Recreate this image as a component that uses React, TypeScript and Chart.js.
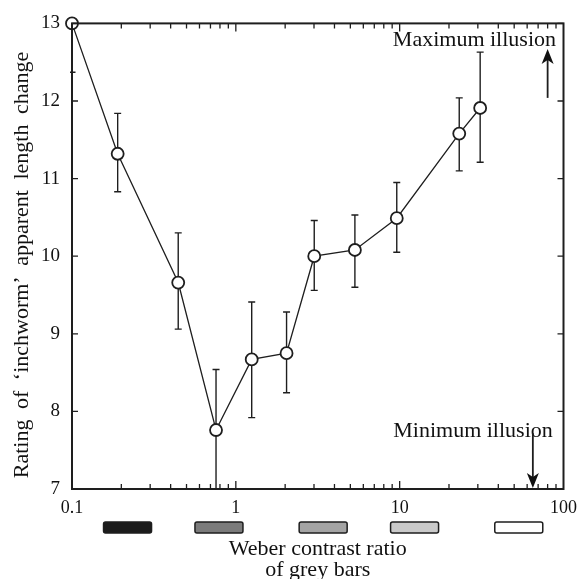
import React, { useEffect, useRef } from 'react';
import { Chart, registerables } from 'chart.js';

Chart.register(...registerables);

// ---- data ----
const contrast = [0.1, 0.19, 0.445, 0.757, 1.25, 2.04, 3.01, 5.33, 9.6, 23.1, 31];
const rating = [13.0, 11.32, 9.66, 7.76, 8.67, 8.75, 10.0, 10.08, 10.49, 11.58, 11.91];
const errUpper = [13.63, 11.84, 10.3, 8.54, 9.41, 9.28, 10.46, 10.53, 10.95, 12.04, 12.63];
const errLower = [12.37, 10.83, 9.06, 6.98, 7.92, 8.24, 9.56, 9.6, 10.05, 11.1, 11.21];
const xTickValues = [0.1, 1, 10, 100];
const xTickLabels = ['0.1', '1', '10', '100'];
const yTickValues = [7, 8, 9, 10, 11, 12, 13];
const barGreys = ['#1c1c1c', '#7b7b7b', '#a4a4a4', '#cacaca', '#ffffff'];
const yTitle = 'Rating of \u2018inchworm\u2019 apparent length change';
const xTitle = ['Weber contrast ratio', 'of grey bars'];

const FONT = '"Liberation Serif", "Times New Roman", serif';
const INK = '#1e1e1e';

const decorPlugin = {
  id: 'decor',
  beforeDatasetsDraw(chart: any) {
    const { ctx, chartArea, scales } = chart;
    const xs = scales.x, ys = scales.y;
    ctx.save();
    ctx.beginPath();
    ctx.rect(chartArea.left - 2, chartArea.top, chartArea.right - chartArea.left + 4, chartArea.bottom - chartArea.top);
    ctx.clip();
    ctx.strokeStyle = INK;
    ctx.lineWidth = 1.4;
    for (let i = 0; i < contrast.length; i++) {
      const px = xs.getPixelForValue(contrast[i]);
      const pu = ys.getPixelForValue(errUpper[i]);
      const pl = ys.getPixelForValue(errLower[i]);
      ctx.beginPath();
      ctx.moveTo(px, pu); ctx.lineTo(px, pl);
      ctx.moveTo(px - 3.5, pu); ctx.lineTo(px + 3.5, pu);
      ctx.moveTo(px - 3.5, pl); ctx.lineTo(px + 3.5, pl);
      ctx.stroke();
    }
    ctx.restore();
  },
  afterDraw(chart: any) {
    const { ctx, chartArea, scales } = chart;
    const xs = scales.x, ys = scales.y;
    const { left, right, top, bottom } = chartArea;
    ctx.save();
    ctx.strokeStyle = INK;
    // frame
    ctx.lineWidth = 2;
    ctx.strokeRect(left, top, right - left, bottom - top);
    // x ticks (log, inward, top & bottom)
    ctx.lineWidth = 1.3;
    ctx.beginPath();
    for (let d = 0; d < xTickValues.length - 1; d++) {
      for (let m = 1; m <= 9; m++) {
        const v = xTickValues[d] * m;
        const px = xs.getPixelForValue(v);
        const len = m === 1 ? 8 : 5;
        ctx.moveTo(px, bottom); ctx.lineTo(px, bottom - len);
        ctx.moveTo(px, top); ctx.lineTo(px, top + len);
      }
    }
    // y ticks
    for (const v of yTickValues) {
      const py = ys.getPixelForValue(v);
      ctx.moveTo(left, py); ctx.lineTo(left + 6, py);
      ctx.moveTo(right, py); ctx.lineTo(right - 6, py);
    }
    ctx.stroke();

    // annotations
    ctx.fillStyle = '#111';
    ctx.font = `22px ${FONT}`;
    ctx.textAlign = 'right';
    ctx.textBaseline = 'alphabetic';
    ctx.fillText('Maximum illusion', xs.getPixelForValue(90), ys.getPixelForValue(12.71));
    ctx.fillText('Minimum illusion', xs.getPixelForValue(86), ys.getPixelForValue(7.67));

    // up arrow
    const ax = xs.getPixelForValue(80);
    const aTop = ys.getPixelForValue(12.67);
    const aBot = ys.getPixelForValue(12.04);
    ctx.lineWidth = 1.8;
    ctx.beginPath();
    ctx.moveTo(ax, aBot); ctx.lineTo(ax, aTop + 8); ctx.stroke();
    ctx.beginPath();
    ctx.moveTo(ax, aTop); ctx.lineTo(ax - 6, aTop + 15); ctx.lineTo(ax, aTop + 11); ctx.lineTo(ax + 6, aTop + 15); ctx.closePath();
    ctx.fill();
    // down arrow
    const bx = xs.getPixelForValue(65);
    const bTop = ys.getPixelForValue(7.72);
    const bTip = ys.getPixelForValue(7.0) - 1;
    ctx.beginPath();
    ctx.moveTo(bx, bTop); ctx.lineTo(bx, bTip - 8); ctx.stroke();
    ctx.beginPath();
    ctx.moveTo(bx, bTip); ctx.lineTo(bx - 6, bTip - 15); ctx.lineTo(bx, bTip - 11); ctx.lineTo(bx + 6, bTip - 15); ctx.closePath();
    ctx.fill();

    // grey contrast bars
    const centers = [0.113, 0.299, 0.511, 0.697, 0.909];
    const w = 48, h = 11, by = bottom + 33;
    ctx.lineWidth = 1.5;
    barGreys.forEach((g, i) => {
      const cx = left + centers[i] * (right - left);
      ctx.fillStyle = g;
      ctx.beginPath();
      if ((ctx as any).roundRect) (ctx as any).roundRect(cx - w / 2, by, w, h, 2);
      else ctx.rect(cx - w / 2, by, w, h);
      ctx.fill();
      ctx.stroke();
    });

    // x title
    ctx.fillStyle = '#111';
    ctx.textAlign = 'center';
    ctx.textBaseline = 'alphabetic';
    ctx.font = `22px ${FONT}`;
    const mid = (left + right) / 2;
    ctx.fillText(xTitle[0], mid, bottom + 66);
    ctx.fillText(xTitle[1], mid, bottom + 87);

    // y title
    ctx.save();
    try { (ctx as any).wordSpacing = '5px'; } catch (e) {}
    ctx.textBaseline = 'middle';
    ctx.translate(22, 265);
    ctx.rotate(-Math.PI / 2);
    ctx.fillText(yTitle, 0, 0);
    ctx.restore();

    ctx.restore();
  },
};

export default function App() {
  const ref = useRef<HTMLCanvasElement | null>(null);
  useEffect(() => {
    if (!ref.current) return;
    const chart = new Chart(ref.current, {
      type: 'scatter',
      data: {
        datasets: [
          {
            data: contrast.map((x, i) => ({ x, y: rating[i] })),
            showLine: true,
            borderColor: INK,
            borderWidth: 1.3,
            pointRadius: 6,
            pointBackgroundColor: '#ffffff',
            pointBorderColor: INK,
            pointBorderWidth: 1.8,
            clip: false as any,
          },
        ],
      },
      options: {
        animation: false,
        responsive: false,
        maintainAspectRatio: false,
        layout: { padding: { top: 20, right: 18, left: 0, bottom: 0 } },
        plugins: { legend: { display: false }, tooltip: { enabled: false } },
        scales: {
          x: {
            type: 'logarithmic',
            min: 0.1,
            max: 100,
            grid: { display: false, drawTicks: false },
            border: { display: false },
            afterFit: (s: any) => { s.height = 90; },
            afterBuildTicks: (s: any) => { s.ticks = xTickValues.map((v) => ({ value: v })); },
            ticks: {
              autoSkip: false,
              maxRotation: 0,
              padding: 8,
              color: '#111',
              font: { family: FONT, size: 18 },
              callback: (v: any) => {
                const i = xTickValues.indexOf(Number(v));
                return i >= 0 ? xTickLabels[i] : '';
              },
            },
          },
          y: {
            min: 7,
            max: 13,
            grid: { display: false, drawTicks: false },
            border: { display: false },
            afterFit: (s: any) => { s.width = 72; },
            afterBuildTicks: (s: any) => { s.ticks = yTickValues.map((v) => ({ value: v })); },
            ticks: {
              padding: 12,
              color: '#111',
              font: { family: FONT, size: 19 },
            },
          },
        },
      },
      plugins: [decorPlugin],
    });
    return () => chart.destroy();
  }, []);
  return (
    <div style={{ position: 'fixed', left: 0, top: 0, width: 585, height: 579, background: '#fff' }}>
      <canvas ref={ref} width={585} height={579} style={{ width: 585, height: 579 }} />
    </div>
  );
}
